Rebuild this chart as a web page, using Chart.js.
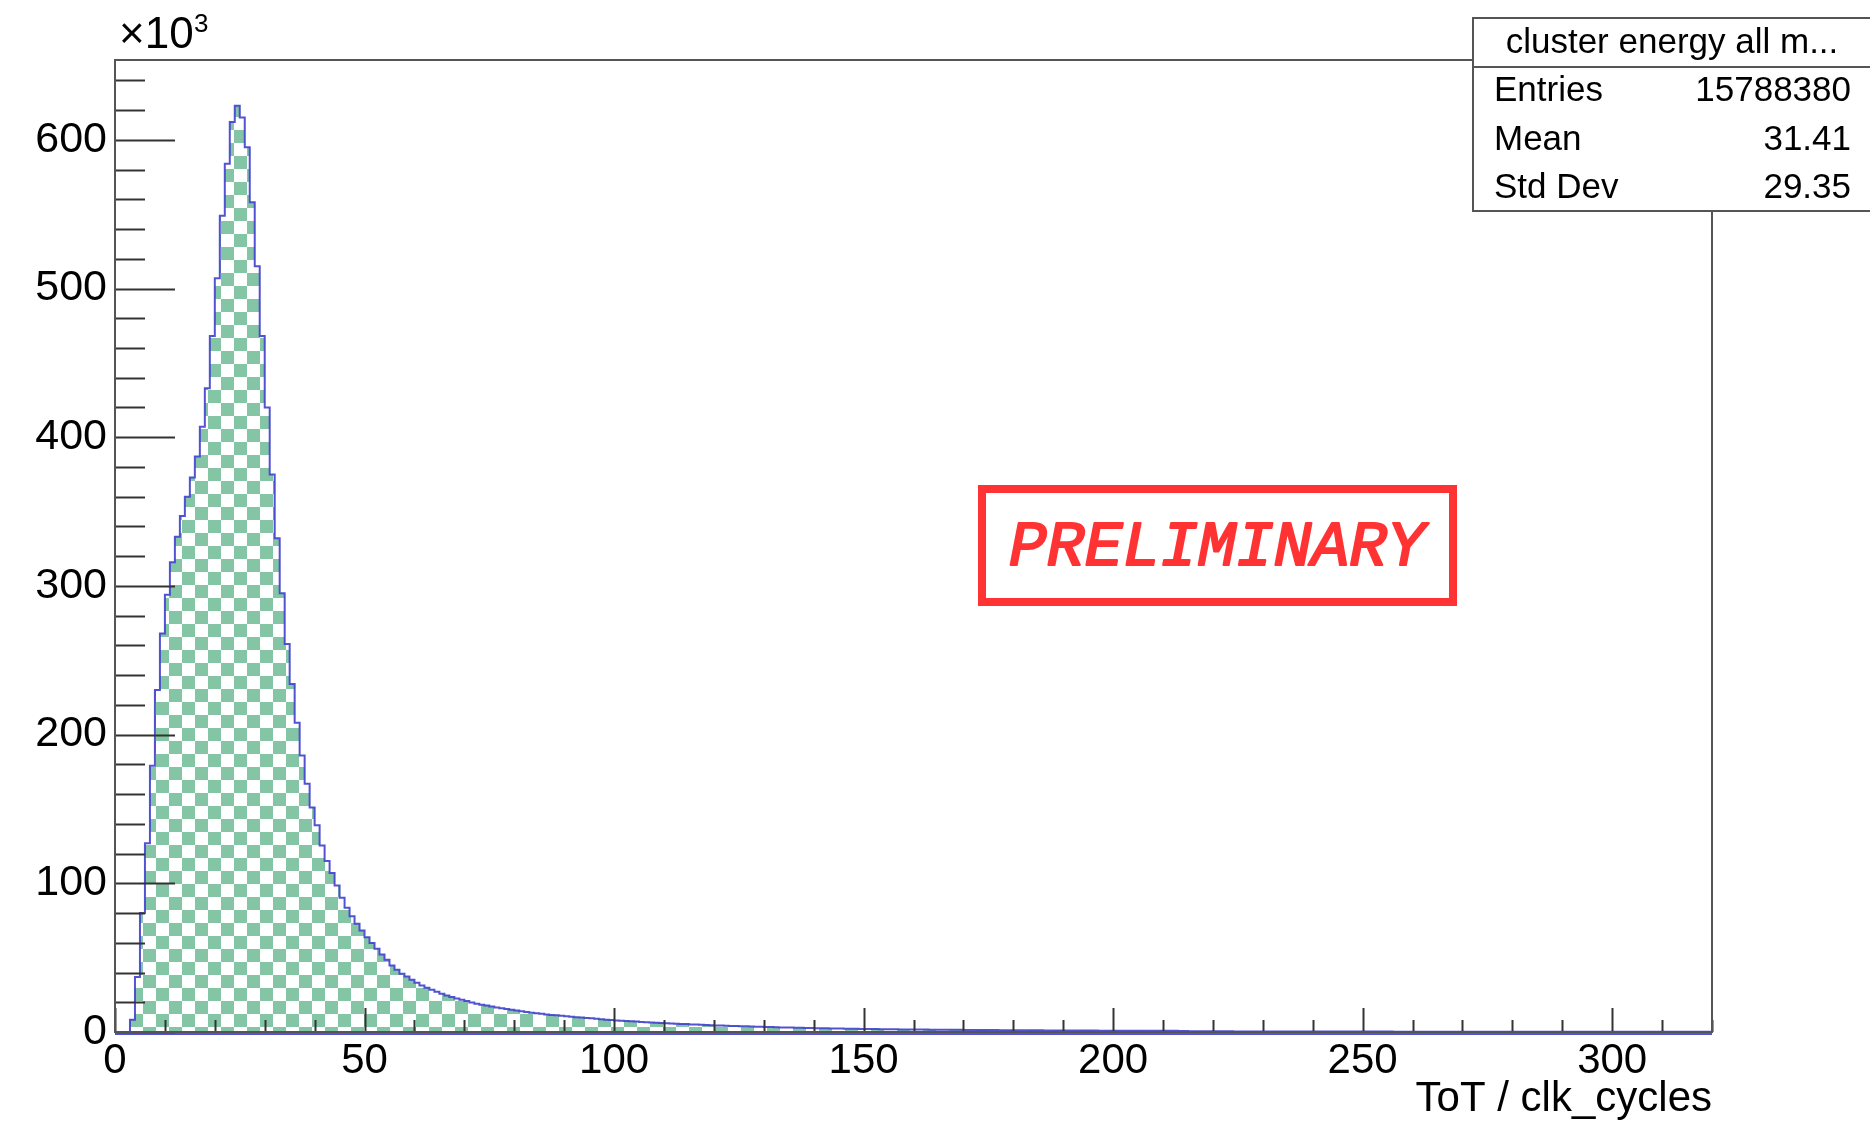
<!DOCTYPE html>
<html>
<head>
<meta charset="utf-8">
<title>cluster energy all modules</title>
<script src="https://cdn.jsdelivr.net/npm/chart.js@4.4.1/dist/chart.umd.min.js"></script>
<style>
  html, body { margin: 0; padding: 0; background: #fff; }
  #tot { display: block; width: 1870px; height: 1125px; }
</style>
</head>
<body>
<canvas id="tot" width="1870" height="1125"></canvas>
<script>
/* ToT histogram, 320 bins of 1 clk cycle, counts in units of 10^3 */

const BIN_LOW = 0;
const BIN_WIDTH = 1;
const X_MAX = 320;
const Y_MAX = 653.7;          // ROOT: 1.05 * peak bin

const binCounts = [
    0, 0, 0, 8.3, 37, 80, 127, 179, 230, 268,
    294, 316, 333, 347, 360, 373, 387, 407, 433, 468,
    507, 549, 584, 612, 623, 615, 595, 558, 515, 468,
    420, 375, 332, 295, 261, 234, 208, 186, 167, 151,
    139, 125.5, 115, 107, 98.6, 90.3, 83.6, 77.8, 72.8, 68.3,
    63.8, 59.8, 56, 52.2, 48.6, 44.8, 41.9, 39.2, 37.4, 35.2,
    33.1, 31.3, 29.8, 28.4, 27.1, 25.8, 24.6, 23.5, 22.6, 21.7,
    20.8, 19.9, 19.0, 18.4, 17.8, 17.1, 16.5, 15.9, 15.4, 14.9,
    14.4, 14.0, 13.5, 13.0, 12.6, 12.2, 11.8, 11.5, 11.2, 10.9,
    10.6, 10.3, 10.0, 9.7, 9.4, 9.2, 8.9, 8.6, 8.3, 8.0,
    7.8, 7.6, 7.4, 7.2, 7.0, 6.8, 6.6, 6.4, 6.2, 6.0,
    5.9, 5.7, 5.6, 5.4, 5.3, 5.1, 5.0, 4.8, 4.7, 4.6,
    4.4, 4.3, 4.2, 4.1, 4.0, 3.9, 3.8, 3.7, 3.6, 3.5,
    3.4, 3.3, 3.2, 3.1, 3.0, 2.95, 2.9, 2.8, 2.7, 2.65,
    2.6, 2.5, 2.45, 2.4, 2.35, 2.3, 2.25, 2.2, 2.15, 2.1,
    2.05, 2.0, 1.95, 1.9, 1.85, 1.8, 1.78, 1.75, 1.72, 1.7,
    1.67, 1.64, 1.61, 1.58, 1.55, 1.52, 1.5, 1.47, 1.45, 1.43,
    1.4, 1.38, 1.36, 1.34, 1.32, 1.3, 1.28, 1.26, 1.24, 1.22,
    1.2, 1.18, 1.16, 1.14, 1.12, 1.1, 1.08, 1.07, 1.05, 1.04,
    1.02, 1.0, 0.99, 0.97, 0.96, 0.95, 0.93, 0.92, 0.91, 0.9,
    0.88, 0.87, 0.86, 0.85, 0.84, 0.83, 0.82, 0.81, 0.8, 0.79,
    0.78, 0.77, 0.76, 0.75, 0.74, 0.52, 0.5, 0.48, 0.47, 0.46,
    0.45, 0.44, 0.44, 0.43, 0.42, 0.42, 0.41, 0.40, 0.40, 0.39,
    0.38, 0.38, 0.37, 0.37, 0.36, 0.35, 0.35, 0.34, 0.34, 0.33,
    0.33, 0.32, 0.32, 0.31, 0.31, 0.30, 0.30, 0.29, 0.29, 0.28,
    0.28, 0.27, 0.27, 0.27, 0.26, 0.26, 0.25, 0.25, 0.25, 0.24,
    0.24, 0.23, 0.23, 0.23, 0.22, 0.22, 0.22, 0.21, 0.21, 0.21,
    0.20, 0.20, 0.20, 0.19, 0.19, 0.19, 0.19, 0.18, 0.18, 0.18,
    0.18, 0.17, 0.17, 0.17, 0.17, 0.16, 0.16, 0.16, 0.16, 0.15,
    0.15, 0.15, 0.15, 0.15, 0.14, 0.14, 0.14, 0.14, 0.14, 0.13,
    0.13, 0.13, 0.13, 0.13, 0.13, 0.12, 0.12, 0.12, 0.12, 0.12,
    0.12, 0.11, 0.11, 0.11, 0.11, 0.11, 0.11, 0.10, 0.10, 0.10
];

const xMajorTicks = [0, 50, 100, 150, 200, 250, 300];
const yMajorTicks = [0, 100, 200, 300, 400, 500, 600];
const X_MINOR = 10;
const Y_MINOR = 20;

const statsTitle = 'cluster energy all m...';
const statsNames = ['Entries', 'Mean', 'Std Dev'];
const statsValues = ['15788380', '31.41', '29.35'];

const FONT = '"Liberation Sans", Arial, Helvetica, sans-serif';

// checkerboard fill, like ROOT fill style 3xxx
function checkerPattern(ctx, cell, color) {
    const c = document.createElement('canvas');
    c.width = c.height = cell * 2;
    const p = c.getContext('2d');
    p.fillStyle = color;
    p.fillRect(0, 0, cell, cell);
    p.fillRect(cell, cell, cell, cell);
    return ctx.createPattern(c, 'repeat');
}

// axes ticks pointing inward + frame, drawn over the fill like ROOT
const rootFrame = {
    id: 'rootFrame',
    afterDatasetsDraw(chart) {
        const { ctx, chartArea: a, scales: { x, y } } = chart;
        const seg = (x0, y0, x1, y1) => { ctx.beginPath(); ctx.moveTo(x0, y0); ctx.lineTo(x1, y1); ctx.stroke(); };
        ctx.save();
        ctx.strokeStyle = '#333';
        ctx.lineWidth = 2;
        for (let v = 0; v <= Y_MAX; v += Y_MINOR) {
            const py = Math.round(y.getPixelForValue(v)) + 0.5;
            seg(a.left, py, a.left + (v % 100 === 0 ? 60 : 30), py);
        }
        for (let v = 0; v <= X_MAX; v += X_MINOR) {
            const px = Math.round(x.getPixelForValue(v)) + 0.5;
            seg(px, a.bottom, px, a.bottom - (v % 50 === 0 ? 24 : 12));
        }
        ctx.strokeStyle = '#555';
        ctx.strokeRect(a.left, a.top, a.right - a.left, a.bottom - a.top);
        // histogram outline closes along the bottom, just under the axis
        ctx.strokeStyle = 'rgba(64, 64, 205, 0.9)';
        seg(a.left, a.bottom + 2, a.right, a.bottom + 2);
        ctx.restore();
    },
    afterDraw(chart) {
        const { ctx, chartArea: a } = chart;
        ctx.save();

        // exponent of the y axis
        ctx.fillStyle = '#000';
        ctx.textBaseline = 'alphabetic';
        ctx.textAlign = 'left';
        ctx.font = `44px ${FONT}`;
        ctx.fillText('\u00d710', 119, 48);
        ctx.font = `26px ${FONT}`;
        ctx.fillText('3', 194, 32);

        // x axis title
        ctx.font = `42px ${FONT}`;
        ctx.textAlign = 'right';
        ctx.fillText('ToT / clk_cycles', a.right, 1111);

        // stats box
        const bx = 1473, by = 18, bw = 1870 - 1473 + 2, bh = 211 - 18;
        ctx.fillStyle = '#fff';
        ctx.fillRect(bx, by, bw, bh);
        ctx.strokeStyle = '#555';
        ctx.lineWidth = 2;
        ctx.strokeRect(bx, by, bw, bh);
        ctx.beginPath(); ctx.moveTo(bx, 67); ctx.lineTo(bx + bw, 67); ctx.stroke();
        ctx.fillStyle = '#000';
        ctx.font = `35px ${FONT}`;
        ctx.textAlign = 'center';
        ctx.fillText(statsTitle, 1672, 53);
        const rows = [101, 150, 198];
        statsNames.forEach((name, i) => {
            ctx.textAlign = 'left';
            ctx.fillText(name, 1494, rows[i]);
            ctx.textAlign = 'right';
            ctx.fillText(statsValues[i], 1851, rows[i]);
        });

        // PRELIMINARY stamp (medium weight: regular glyphs with a thin outline)
        ctx.strokeStyle = '#ff3333';
        ctx.lineWidth = 8;
        ctx.strokeRect(982, 489, 471, 113);
        ctx.fillStyle = '#ff3333';
        ctx.font = `italic 63px "Liberation Mono", "DejaVu Sans Mono", monospace`;
        ctx.textAlign = 'center';
        ctx.lineWidth = 2.2;
        ctx.lineJoin = 'round';
        ctx.fillText('PRELIMINARY', 1217, 565);
        ctx.strokeText('PRELIMINARY', 1217, 565);

        ctx.restore();
    }
};

const canvas = document.getElementById('tot');
const ctx = canvas.getContext('2d');

// bin low edges, plus the upper edge of the last bin
const points = binCounts.map((c, i) => ({ x: BIN_LOW + i * BIN_WIDTH, y: c }));
points.push({ x: X_MAX, y: binCounts[binCounts.length - 1] });

new Chart(ctx, {
    type: 'line',
    data: {
        datasets: [{
            label: 'cluster energy all modules',
            data: points,
            stepped: true,
            fill: 'origin',
            backgroundColor: checkerPattern(ctx, 13, 'rgb(132, 197, 165)'),
            borderColor: 'rgba(64, 64, 205, 0.9)',
            borderWidth: 2,
            pointRadius: 0,
            tension: 0,
        }]
    },
    options: {
        responsive: false,
        animation: false,
        devicePixelRatio: 1,
        layout: { padding: { top: 60, right: 158, left: 0, bottom: 0 } },
        plugins: { legend: { display: false }, tooltip: { enabled: false } },
        scales: {
            x: {
                type: 'linear',
                min: 0,
                max: X_MAX,
                grid: { display: false, drawTicks: false },
                border: { display: false },
                afterFit: (s) => { s.height = 93; },
                afterBuildTicks: (s) => { s.ticks = xMajorTicks.map(v => ({ value: v })); },
                ticks: {
                    autoSkip: false, maxRotation: 0, padding: 4,
                    color: '#000', font: { family: FONT, size: 42 }
                }
            },
            y: {
                min: 0,
                max: Y_MAX,
                grid: { display: false, drawTicks: false },
                border: { display: false },
                afterFit: (s) => { s.width = 115; },
                afterBuildTicks: (s) => { s.ticks = yMajorTicks.map(v => ({ value: v })); },
                ticks: {
                    autoSkip: false, padding: 8,
                    color: '#000', font: { family: FONT, size: 43 }
                }
            }
        }
    },
    plugins: [rootFrame]
});
</script>
</body>
</html>
